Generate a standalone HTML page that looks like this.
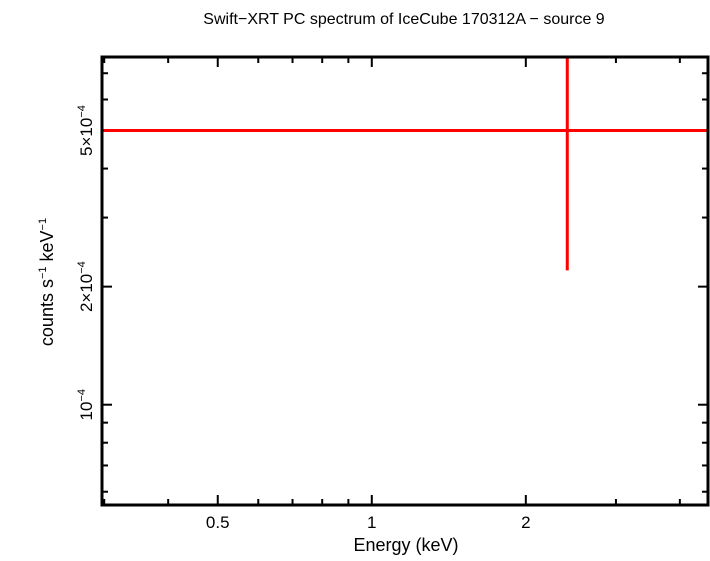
<!DOCTYPE html>
<html><head><meta charset="utf-8"><style>
body{margin:0;background:#fff}
text{font-family:"Liberation Sans",sans-serif;fill:#000}
</style></head><body>
<svg id="c" width="710" height="556" xmlns="http://www.w3.org/2000/svg">
<text x="404" y="24" font-size="16" text-anchor="middle">Swift−XRT PC spectrum of IceCube 170312A − source 9</text>
<text x="406" y="551" font-size="18" text-anchor="middle">Energy (keV)</text>
<text transform="translate(53,282) rotate(-90)" font-size="18" text-anchor="middle">counts s<tspan font-size="11" dy="-7">−1</tspan><tspan dy="7"> keV</tspan><tspan font-size="11" dy="-7">−1</tspan></text>
<g id="ticks"></g>
<g id="marks"></g>
<rect x="102" y="57" width="606" height="448" fill="none" stroke="#000" stroke-width="3"/>
</svg>
<script>
const xTickLabels=["0.5","1","2"];
const xTickVals=[0.5,1,2];
const yTickVals=[1e-4,2e-4,5e-4];
const yTickLabels=[["10","−4"],["2×10","−4"],["5×10","−4"]];
const energy=[2.41];
const energyLo=[0.25];
const energyHi=[5];
const rate=[5e-4];
const rateLo=[2.2e-4];
const rateHi=[1e-3];
const L=102,R=708,T=57,B=505;
const xmin=0.297,xmax=4.54,ymin=5.55e-5,ymax=7.7e-4;
function X(v){return L+(Math.log10(v)-Math.log10(xmin))/(Math.log10(xmax)-Math.log10(xmin))*(R-L);}
function Y(v){return B-(Math.log10(v)-Math.log10(ymin))/(Math.log10(ymax)-Math.log10(ymin))*(B-T);}
const NS="http://www.w3.org/2000/svg";
const tg=document.getElementById('ticks'),mg=document.getElementById('marks');
function ln(g,x1,y1,x2,y2,c,w){const l=document.createElementNS(NS,'line');l.setAttribute('x1',x1);l.setAttribute('y1',y1);l.setAttribute('x2',x2);l.setAttribute('y2',y2);l.setAttribute('stroke',c);l.setAttribute('stroke-width',w);g.appendChild(l);return l;}
// x ticks
for(let d=-1;d<=0;d++)for(let m=1;m<10;m++){const v=m*Math.pow(10,d);if(v<xmin||v>xmax)continue;const x=X(v);const big=(m===1||m===2||m===5);const len=big?10:6;
let a=ln(tg,x,B,x,B-len,'#000',2);
let b=ln(tg,x,T,x,T+len,'#000',2);}
xTickVals.forEach((v,i)=>{const t=document.createElementNS(NS,'text');t.setAttribute('x',X(v));t.setAttribute('y',528);t.setAttribute('font-size','17');t.setAttribute('text-anchor','middle');t.textContent=xTickLabels[i];


tg.appendChild(t);});
// y ticks
for(let d=-5;d<=-4;d++)for(let m=1;m<10;m++){const v=m*Math.pow(10,d);if(v<ymin||v>ymax)continue;const y=Y(v);const big=(m===1||m===2||m===5)&&d===-4;const len=big?10:6;
let a=ln(tg,L,y,L+len,y,'#000',2);
let b=ln(tg,R,y,R-len,y,'#000',2);}
yTickVals.forEach((v,i)=>{const t=document.createElementNS(NS,'text');t.setAttribute('transform','translate(92,'+Y(v)+') rotate(-90)');t.setAttribute('font-size','17');t.setAttribute('text-anchor','middle');
t.innerHTML=yTickLabels[i][0]+'<tspan font-size="11" dy="-7">'+yTickLabels[i][1]+'</tspan>';


tg.appendChild(t);});
// data
energy.forEach((e,i)=>{
const h=ln(mg,Math.max(L,X(energyLo[i])),Y(rate[i]),Math.min(R,X(energyHi[i])),Y(rate[i]),'#f00',3);


const v=ln(mg,X(e),Math.max(T,Y(rateHi[i])),X(e),Y(rateLo[i]),'#f00',3);


});
</script>
</body></html>
